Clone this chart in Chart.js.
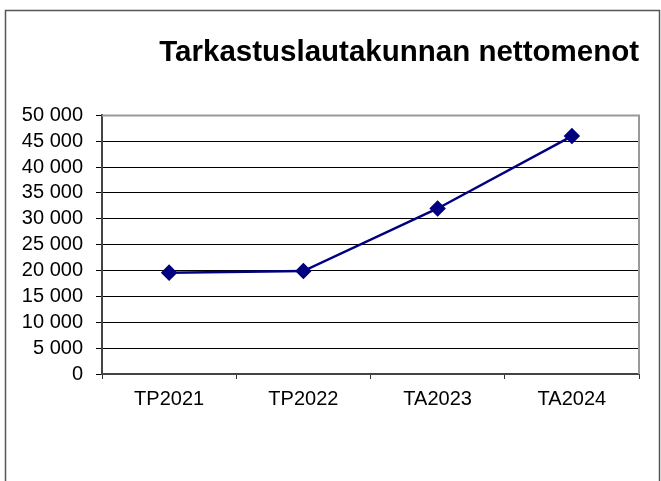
<!DOCTYPE html>
<html>
<head>
<meta charset="utf-8">
<script src="https://cdn.jsdelivr.net/npm/chart.js@4/dist/chart.umd.min.js"></script>
<style>
  html, body { margin: 0; padding: 0; background: #fff; }
  #chart { display: block; }
</style>
</head>
<body>
<canvas id="chart" width="661" height="481"></canvas>
<script>
// Chart data
const categories = ['TP2021', 'TP2022', 'TA2023', 'TA2024'];
const netCosts = [19600, 19900, 32000, 46000];
const chartTitle = 'Tarkastuslautakunnan nettomenot';

const FONT = "'Liberation Sans', Arial, sans-serif";
const NAVY = '#000080';

// thousands with a space, e.g. 45 000
function fmtThousands(v) {
  return String(v).replace(/\B(?=(\d{3})+(?!\d))/g, ' ');
}

// Excel-like frames: outer chart border and grey plot border (top/right)
const framePlugin = {
  id: 'frames',
  afterDraw(chart) {
    const { ctx, chartArea } = chart;
    ctx.save();
    ctx.strokeStyle = '#999';
    ctx.lineWidth = 2;
    ctx.beginPath();
    ctx.moveTo(chartArea.left, chartArea.top);
    ctx.lineTo(chartArea.right, chartArea.top);
    ctx.lineTo(chartArea.right, chartArea.bottom);
    ctx.stroke();

    ctx.strokeStyle = '#555';
    ctx.lineWidth = 1.5;
    ctx.strokeRect(5.5, 10.5, 654, 490);
    ctx.restore();
  },
};

new Chart(document.getElementById('chart').getContext('2d'), {
  type: 'line',
  data: {
    labels: categories,
    datasets: [{
      label: chartTitle,
      data: netCosts,
      borderColor: NAVY,
      backgroundColor: NAVY,
      borderWidth: 2.5,
      pointStyle: 'rectRot',
      pointRadius: 6.5,
      pointBackgroundColor: NAVY,
      pointBorderColor: NAVY,
      tension: 0,
      fill: false,
    }],
  },
  options: {
    responsive: false,
    animation: false,
    layout: { padding: { left: 0, right: 22, top: 0, bottom: 0 } },
    plugins: {
      legend: { display: false },
      tooltip: { enabled: false },
      title: {
        display: true,
        text: chartTitle,
        align: 'end',
        color: '#000',
        font: { family: FONT, size: 29.5, weight: 'bold' },
        padding: { top: 35, bottom: 45 },
      },
    },
    scales: {
      x: {
        type: 'category',
        offset: true,
        afterFit: (scale) => { scale.height = 107; },
        grid: {
          offset: true,
          drawOnChartArea: false,
          drawTicks: true,
          tickLength: 5,
          color: '#333',
        },
        border: { display: true, color: '#444', width: 2 },
        ticks: {
          color: '#000',
          padding: 8,
          maxRotation: 0,
          font: { family: FONT, size: 20 },
        },
      },
      y: {
        min: 0,
        max: 50000,
        afterFit: (scale) => { scale.width = 102; },
        grid: {
          color: '#000',
          lineWidth: 1,
          drawTicks: true,
          tickLength: 6,
        },
        border: { display: true, color: '#444', width: 2 },
        ticks: {
          stepSize: 5000,
          autoSkip: false,
          color: '#000',
          padding: 13,
          font: { family: FONT, size: 20 },
          callback: (v) => fmtThousands(v),
        },
      },
    },
  },
  plugins: [framePlugin],
});
</script>
</body>
</html>
